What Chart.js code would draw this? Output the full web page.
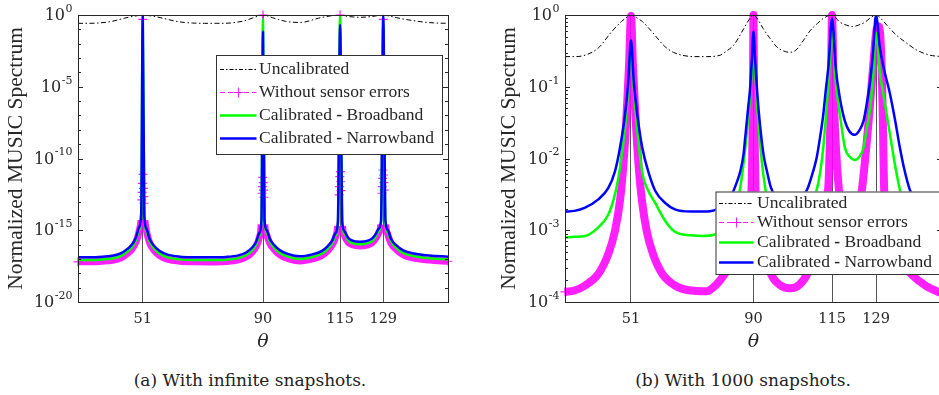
<!DOCTYPE html>
<html>
<head>
<meta charset="utf-8">
<script src="https://cdn.jsdelivr.net/npm/chart.js@4.4.1/dist/chart.umd.min.js"></script>
<style>
  html, body { margin: 0; padding: 0; background: #fff; overflow: hidden; }
  body { width: 939px; height: 395px; position: relative; }
  .panel { position: absolute; top: 0; height: 360px; }
  #panel-a { left: 0; width: 470px; }
  #panel-b { left: 470px; width: 480px; }
  .caption {
    position: absolute; top: 370px; line-height: 20px;
    font-family: "DejaVu Serif", serif; font-size: 17px; color: #222;
    transform: translateX(-50%); white-space: nowrap;
  }
</style>
</head>
<body>
<div class="panel" id="panel-a"><canvas id="spectrum-a" width="470" height="360"></canvas></div>
<div class="panel" id="panel-b"><canvas id="spectrum-b" width="480" height="360"></canvas></div>
<div class="caption" style="left:250px">(a) With infinite snapshots.</div>
<div class="caption" style="left:743px">(b) With 1000 snapshots.</div>
<script>
// spectrum values are kept as log10 of the normalized MUSIC spectrum
const xTicks = [51, 90, 115, 129];
const yTickExpA = [0, -5, -10, -15, -20];
const yTickExpB = [0, -1, -2, -3, -4];

// uncalibrated array, same in both panels
const thetaUncal = [30, 33, 36.4, 40.6, 44.9, 48, 50, 51, 52, 54.6,
  57.6, 61.8, 64.5, 67.2, 71, 75, 79.4, 81.5, 83.7, 86.9,
  88.5, 90, 91.5, 93.1, 95, 97.3, 99.5, 101.6, 103.5, 105.8,
  108, 110.3, 112.5, 115, 117.5, 119.5, 121.5, 123.5, 125.5, 127.5,
  129, 131, 133.4, 136, 138.7, 142, 146.2, 150];
const uncalibrated = [-0.58, -0.58, -0.56, -0.46, -0.23, -0.09, -0.02, 0, -0.02, -0.09,
  -0.23, -0.44, -0.52, -0.56, -0.58, -0.58, -0.56, -0.5, -0.42, -0.19,
  -0.07, 0, -0.07, -0.19, -0.31, -0.44, -0.5, -0.52, -0.49, -0.36,
  -0.22, -0.12, -0.04, 0, -0.1, -0.14, -0.16, -0.14, -0.1, -0.03,
  0, -0.07, -0.19, -0.3, -0.39, -0.49, -0.56, -0.58];

// (a) infinite snapshots
const thetaA = [30, 34, 38, 41, 44, 46, 47.5, 48.8, 49.8, 50.5,
  51, 51.5, 52.2, 53.2, 54.5, 56.5, 59, 63, 68, 73,
  78, 82, 84.5, 86.5, 87.8, 88.8, 89.5, 90, 90.5, 91.2,
  92.2, 93.5, 95.5, 98, 102, 106, 109, 111, 112.5, 113.5,
  114.3, 115, 115.7, 116.5, 117.5, 119, 121.5, 124, 125.5, 126.6,
  127.5, 128.3, 129, 129.7, 130.5, 131.5, 133, 135.5, 139, 144,
  150];
const narrowA = [-16.88, -16.88, -16.84, -16.78, -16.6, -16.3, -16.0, -15.5, -14.8, -13.8,
  0, -13.9, -14.9, -15.6, -16.05, -16.45, -16.7, -16.84, -16.88, -16.89,
  -16.86, -16.75, -16.55, -16.2, -15.8, -15.2, -14.3, -1.16, -14.3, -15.0,
  -15.6, -16.0, -16.4, -16.65, -16.82, -16.68, -16.45, -16.1, -15.7, -15.2,
  -14.4, -0.7, -14.4, -15.1, -15.5, -15.72, -15.8, -15.72, -15.55, -15.25,
  -14.9, -14.3, 0, -14.3, -15.0, -15.6, -16.0, -16.4, -16.62, -16.76,
  -16.84];
const broadA = [-17.07, -17.07, -17.03, -16.97, -16.79, -16.49, -16.19, -15.68, -14.97, -13.95,
  -0.3, -14.05, -15.08, -15.79, -16.24, -16.64, -16.89, -17.03, -17.07, -17.08,
  -17.05, -16.94, -16.74, -16.39, -15.98, -15.37, -14.45, -0.3, -14.45, -15.17,
  -15.79, -16.19, -16.59, -16.84, -17.01, -16.87, -16.64, -16.29, -15.88, -15.37,
  -14.55, 0, -14.55, -15.27, -15.68, -15.9, -15.98, -15.9, -15.73, -15.43,
  -15.07, -14.45, -0.5, -14.45, -15.18, -15.78, -16.19, -16.59, -16.81, -16.95,
  -17.03];
const thetaIdealA = [30, 34, 38, 41, 44, 46, 47.5, 48.8, 49.8, 50.4,
  50.7, 50.8, 50.9, 51, 51.1, 51.2, 51.3, 51.4, 51.7, 52.3,
  53.2, 54.5, 56.5, 59, 63, 68, 73, 78, 82, 84.5,
  86.5, 87.8, 88.8, 89.4, 89.7, 89.8, 89.9, 90, 90.1, 90.2,
  90.3, 90.6, 91.2, 92.2, 93.5, 95.5, 98, 102, 106, 109,
  111, 112.5, 113.5, 114.2, 114.7, 114.8, 114.9, 115, 115.1, 115.2,
  115.3, 115.8, 116.5, 117.5, 119, 121.5, 124, 125.5, 126.6, 127.5,
  128.2, 128.6, 128.7, 128.8, 128.9, 129, 129.1, 129.2, 129.3, 129.8,
  130.5, 131.5, 133, 135.5, 139, 144, 150];
const idealA = [-17.2, -17.2, -17.16, -17.1, -16.92, -16.62, -16.32, -15.82, -15.1, -14.3,
  -12.89, -12.36, -11.73, -0.3, -11.1, -12.08, -12.66, -13.12, -14.3, -15.15,
  -15.85, -16.35, -16.77, -17.02, -17.16, -17.2, -17.21, -17.18, -17.07, -16.87,
  -16.52, -16.12, -15.5, -14.6, -12.42, -11.96, -11.31, 0, -11.68, -12.2,
  -12.7, -14.6, -15.3, -15.9, -16.3, -16.72, -16.97, -17.14, -17.0, -16.77,
  -16.42, -16.0, -15.5, -14.7, -12.54, -11.96, -11.27, 0, -10.92, -11.62,
  -12.24, -14.7, -15.4, -15.8, -16.02, -16.1, -16.02, -15.85, -15.55, -15.2,
  -14.6, -12.42, -11.96, -11.38, -10.8, -0.3, -11.15, -11.68, -12.2, -14.6,
  -15.3, -15.9, -16.3, -16.72, -16.94, -17.08, -17.16];

// (b) 1000 snapshots
const thetaB = [30, 33, 36.4, 40.6, 43.8, 45.9, 47.5, 49.1, 50.15, 51,
  51.9, 53, 54.6, 56.5, 58.7, 61.9, 65, 70, 74, 77.7,
  79.4, 81.5, 83.1, 84.7, 85.8, 86.8, 87.4, 88.4, 88.8, 89.5,
  90, 90.5, 91.2, 92, 93.2, 94.3, 95.5, 97.5, 100, 101.5,
  103, 105.5, 107, 108.5, 110.1, 111.2, 112.2, 113, 113.9, 115,
  116.2, 117.5, 119.1, 120.5, 122.2, 123.8, 125, 126, 127.1, 128,
  129, 130.2, 131.5, 133.4, 135, 136.6, 138, 139.8, 142, 145,
  150];
const narrowB = [-2.74, -2.73, -2.685, -2.57, -2.41, -2.18, -1.85, -1.39, -0.93, -0.35,
  -0.93, -1.39, -1.85, -2.18, -2.45, -2.62, -2.71, -2.74, -2.74, -2.72,
  -2.66, -2.58, -2.5, -2.33, -2.18, -1.95, -1.69, -1.25, -1.09, -0.62,
  -0.23, -0.62, -1.09, -1.5, -1.95, -2.18, -2.4, -2.58, -2.66, -2.67,
  -2.62, -2.52, -2.44, -2.25, -1.99, -1.7, -1.39, -1.05, -0.69, -0.05,
  -0.75, -1.16, -1.48, -1.62, -1.67, -1.6, -1.48, -1.25, -0.93, -0.55,
  0, -0.45, -0.75, -1.09, -1.45, -1.85, -2.15, -2.44, -2.6, -2.7,
  -2.74];
const broadB = [-3.1, -3.09, -3.08, -2.96, -2.78, -2.5, -2.13, -1.57, -1.02, -0.42,
  -1.02, -1.6, -2.2, -2.45, -2.62, -2.87, -3.02, -3.07, -3.08, -3.06,
  -3.02, -2.94, -2.8, -2.64, -2.4, -2.08, -1.85, -1.39, -1.2, -0.75,
  -0.38, -0.75, -1.3, -1.75, -2.25, -2.55, -2.75, -2.95, -3.02, -3.03,
  -2.99, -2.88, -2.75, -2.62, -2.44, -2.2, -1.85, -1.45, -0.93, -0.22,
  -0.95, -1.39, -1.85, -1.97, -2.02, -1.97, -1.85, -1.6, -1.3, -0.9,
  -0.25, -0.8, -1.15, -1.65, -2.08, -2.44, -2.7, -2.88, -3.0, -3.06,
  -3.09];
const thetaIdealB = [30, 33, 36.4, 40.6, 43.8, 45.9, 47.5, 48.6, 49.6, 50.4,
  51, 51.6, 52.4, 53.4, 54.5, 56, 58, 61, 65, 70,
  75, 78.3, 81, 83.5, 86, 88, 89.4, 89.8, 90, 90.2,
  90.6, 92, 93.8, 95.3, 98.3, 101.7, 104.6, 107.4, 109.6, 111.8,
  113.8, 114.6, 115, 115.6, 117.2, 119.2, 121, 122.8, 124.5, 126.6,
  128.3, 129.2, 129.9, 130.6, 131.1, 131.6, 133, 135, 137.5, 139.9,
  145, 150];
const idealB = [-3.86, -3.84, -3.77, -3.61, -3.33, -3.01, -2.59, -2.08, -1.39, -0.69,
  -0.01, -0.69, -1.39, -2.08, -2.59, -3.01, -3.33, -3.61, -3.77, -3.84,
  -3.85, -3.75, -3.6, -3.45, -3.15, -2.85, -2.4, -1.2, 0, -1.2,
  -2.4, -2.9, -3.3, -3.58, -3.76, -3.81, -3.76, -3.58, -3.25, -2.85,
  -2.4, -1.2, 0, -1.2, -2.44, -2.85, -3.0, -2.85, -2.44, -1.5,
  -0.6, -0.2, -0.16, -0.5, -1.3, -2.44, -2.95, -3.25, -3.47, -3.6,
  -3.78, -3.88];

const INK = "#262626";
const MAGENTA = "rgba(255, 0, 255, 0.88)";
const SERIF = '"DejaVu Serif", serif';
const CM = '"Liberation Serif", serif';

function toPoints(theta, logs) {
  return theta.map((t, i) => ({ x: t, y: Math.pow(10, logs[i]) }));
}

// legend drawn inside the axes, rows follow dataset order
const legendBox = {
  id: "legendBox",
  afterDatasetsDraw(chart, args, o) {
    const ctx = chart.ctx;
    ctx.save();
    ctx.fillStyle = "#fff";
    ctx.fillRect(o.x, o.y, o.w, o.h);
    ctx.strokeStyle = "#333";
    ctx.lineWidth = 1;
    ctx.strokeRect(o.x + 0.5, o.y + 0.5, o.w, o.h);

    chart.data.datasets.forEach((ds, i) => {
      const y = Math.round(o.rowY + i * o.rowGap) + 0.5;
      ctx.save();
      ctx.strokeStyle = ds.borderColor;
      ctx.beginPath();
      if (ds.sample === "dashdot") {
        ctx.lineWidth = 1;
        ctx.setLineDash([4, 2, 1.5, 2]);
      } else if (ds.sample === "dashplus") {
        ctx.lineWidth = 1;
        ctx.setLineDash([5, 3]);
      } else {
        ctx.lineWidth = 2.5;
      }
      ctx.moveTo(o.sx0, y);
      ctx.lineTo(o.sx1, y);
      ctx.stroke();
      if (ds.sample === "dashplus") {
        const cx = Math.round((o.sx0 + o.sx1) / 2) + 0.5;
        ctx.setLineDash([]);
        ctx.beginPath();
        ctx.moveTo(cx - 5, y); ctx.lineTo(cx + 5, y);
        ctx.moveTo(cx, y - 5); ctx.lineTo(cx, y + 5);
        ctx.stroke();
      }
      ctx.restore();

      // "Calibrated - ..." has a heavy dash in the middle
      ctx.fillStyle = INK;
      ctx.textBaseline = "middle";
      const parts = ds.label.split(" - ");
      let tx = o.tx;
      parts.forEach((part, k) => {
        if (k > 0) {
          ctx.font = "bold " + o.fontSize + "px " + CM;
          const dash = " - ";
          ctx.fillText(dash, tx, y);
          tx += ctx.measureText(dash).width;
        }
        ctx.font = o.fontSize + "px " + CM;
        ctx.fillText(part, tx, y);
        tx += ctx.measureText(part).width;
      });
    });
    ctx.restore();
  }
};

// box, inward ticks on both sides and 10^k labels
const logAxesFrame = {
  id: "logAxesFrame",
  afterDraw(chart, args, o) {
    const { ctx, chartArea } = chart;
    const { left, right, top, bottom } = chartArea;
    const ys = chart.scales.y;
    ctx.save();
    ctx.strokeStyle = INK;
    ctx.lineWidth = 1;
    ctx.strokeRect(left + 0.5, top + 0.5, right - left, bottom - top);

    const tick = (v, len) => {
      const py = Math.round(ys.getPixelForValue(v)) + 0.5;
      ctx.beginPath();
      ctx.moveTo(left, py); ctx.lineTo(left + len, py);
      ctx.moveTo(right, py); ctx.lineTo(right - len, py);
      ctx.stroke();
    };
    const lo = Math.min(...o.exponents), hi = Math.max(...o.exponents);
    for (let k = lo; k <= hi; k++) {
      if (o.exponents.includes(k)) tick(Math.pow(10, k), 5);
      else tick(Math.pow(10, k), 3);
      if (o.minorSteps && k < hi) {
        for (let m = 2; m <= 9; m++) tick(m * Math.pow(10, k), 3);
      }
    }

    ctx.fillStyle = INK;
    ctx.textBaseline = "middle";
    o.exponents.forEach(e => {
      const py = ys.getPixelForValue(Math.pow(10, e));
      const sup = String(e);
      ctx.font = o.baseSize + "px " + SERIF;
      const wBase = ctx.measureText("10").width;
      ctx.font = o.supSize + "px " + SERIF;
      const wSup = ctx.measureText(sup).width;
      const x0 = left - 6 - wBase - wSup;
      ctx.font = o.baseSize + "px " + SERIF;
      ctx.fillText("10", x0, py + 1);
      ctx.font = o.supSize + "px " + SERIF;
      ctx.fillText(sup, x0 + wBase + 0.5, py - 6);
    });
    ctx.restore();
  }
};

function buildChart(canvasId, cfg) {
  const datasets = [
    {
      label: "Uncalibrated",
      data: toPoints(thetaUncal, uncalibrated),
      borderColor: "#000",
      borderWidth: 1,
      borderDash: [5, 2.5, 1.5, 2.5],
      pointRadius: 0,
      order: 0,
      sample: "dashdot"
    },
    {
      label: "Without sensor errors",
      data: cfg.ideal,
      borderColor: MAGENTA,
      borderWidth: cfg.bandWidth,
      borderJoinStyle: "round",
      segment: {
        borderWidth: c => (c.p0.parsed.y > cfg.markerFloor || c.p1.parsed.y > cfg.markerFloor) ? 1 : cfg.bandWidth
      },
      pointStyle: "cross",
      pointRadius: c => {
        if (!c.raw) return 0;
        const last = cfg.ideal.length - 1;
        return (c.raw.y > cfg.markerFloor || c.dataIndex === 0 || c.dataIndex === last) ? 4.5 : 0;
      },
      pointBorderColor: MAGENTA,
      pointBorderWidth: 1.2,
      clip: false,
      order: 3,
      sample: "dashplus"
    },
    {
      label: "Calibrated - Broadband",
      data: cfg.broad,
      borderColor: "#00ff00",
      borderWidth: 2.5,
      borderJoinStyle: "round",
      pointRadius: 0,
      order: 2,
      sample: "solid"
    },
    {
      label: "Calibrated - Narrowband",
      data: cfg.narrow,
      borderColor: "#0000ff",
      borderWidth: 2.5,
      borderJoinStyle: "round",
      pointRadius: 0,
      order: 1,
      sample: "solid"
    }
  ];

  return new Chart(document.getElementById(canvasId), {
    type: "line",
    data: { datasets },
    options: {
      responsive: false,
      animation: false,
      devicePixelRatio: 1,
      events: [],
      elements: { line: { cubicInterpolationMode: "monotone" } },
      layout: { autoPadding: false, padding: { left: cfg.padLeft, right: cfg.padRight, top: 15, bottom: 0 } },
      plugins: {
        legend: { display: false },
        tooltip: { enabled: false },
        legendBox: cfg.legend,
        logAxesFrame: { exponents: cfg.exponents, minorSteps: cfg.minorSteps, baseSize: 16, supSize: 11 }
      },
      scales: {
        x: {
          type: "linear",
          min: 30,
          max: 150,
          afterBuildTicks: axis => { axis.ticks = xTicks.map(v => ({ value: v })); },
          afterFit: axis => { axis.height = 58; },
          ticks: { autoSkip: false, maxRotation: 0, padding: 9, color: INK, font: { family: SERIF, size: 14.5 } },
          grid: { color: "#555", lineWidth: 1, drawTicks: false },
          border: { display: false },
          title: {
            display: true, text: "θ", color: INK,
            font: { family: SERIF, size: 19, style: "italic" },
            padding: { top: 0, bottom: 7 }
          }
        },
        y: {
          type: "logarithmic",
          min: cfg.yMin,
          max: 1,
          afterFit: axis => { axis.width = cfg.yWidth; },
          ticks: { display: false },
          grid: { display: false },
          border: { display: false },
          title: {
            display: true, text: "Normalized MUSIC Spectrum", color: INK,
            font: { family: CM, size: 21.5 },
            padding: { top: 0, bottom: 0 }
          }
        }
      }
    },
    plugins: [legendBox, logAxesFrame]
  });
}

buildChart("spectrum-a", {
  ideal: toPoints(thetaIdealA, idealA),
  broad: toPoints(thetaA, broadA),
  narrow: toPoints(thetaA, narrowA),
  bandWidth: 7,
  markerFloor: 3e-14,
  yMin: 1e-20,
  exponents: yTickExpA,
  minorSteps: false,
  padLeft: 3,
  padRight: 22,
  yWidth: 75,
  legend: { x: 216, y: 55, w: 226, h: 99, rowY: 68.5, rowGap: 23.3, sx0: 220, sx1: 256.5, tx: 259, fontSize: 17.5 }
});

buildChart("spectrum-b", {
  ideal: toPoints(thetaIdealB, idealB),
  broad: toPoints(thetaB, broadB),
  narrow: toPoints(thetaB, narrowB),
  bandWidth: 8,
  markerFloor: 10,
  yMin: 1e-4,
  exponents: yTickExpB,
  minorSteps: true,
  padLeft: 26,
  padRight: 8,
  yWidth: 69,
  legend: { x: 245.5, y: 191.5, w: 227, h: 82.5, rowY: 202.7, rowGap: 19.7, sx0: 249, sx1: 283.5, tx: 287, fontSize: 17.5 }
});
</script>
</body>
</html>
